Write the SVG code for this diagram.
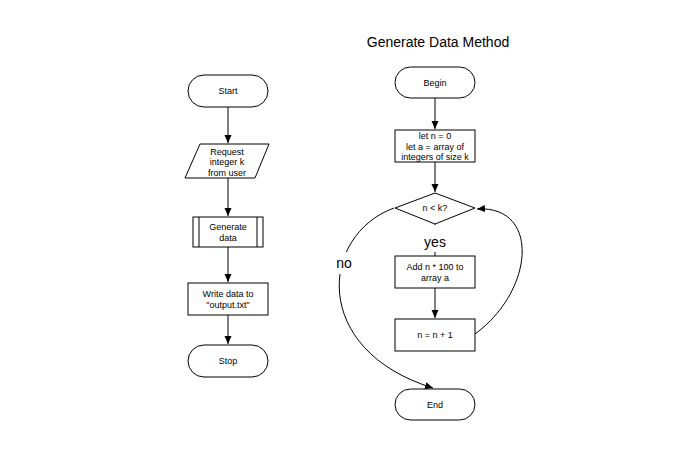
<svg xmlns="http://www.w3.org/2000/svg" width="689" height="471" viewBox="0 0 689 471">
<style>
.s{fill:#fff;stroke:#000;stroke-width:1}
.t{font-family:"Liberation Sans",Arial,sans-serif;font-size:9px;fill:#000;text-anchor:middle}
.big{font-family:"Liberation Sans",Arial,sans-serif;font-size:14px;fill:#000;text-anchor:middle}
.c{fill:none;stroke:#000;stroke-width:1}
</style>
<defs>
<marker id="ah" markerUnits="userSpaceOnUse" markerWidth="10" markerHeight="8" refX="8" refY="3.5" orient="auto">
<path d="M0,0 L8,3.5 L0,7 z" fill="#000"/>
</marker>
</defs>
<rect width="689" height="471" fill="#fff"/>
<text class="big" x="438" y="47">Generate Data Method</text>
<g id="connectors">
<line class="c" x1="228" y1="107" x2="228" y2="143" marker-end="url(#ah)"/>
<line class="c" x1="228" y1="178" x2="228" y2="216" marker-end="url(#ah)"/>
<line class="c" x1="228" y1="247" x2="228" y2="282" marker-end="url(#ah)"/>
<line class="c" x1="228" y1="315" x2="228" y2="344" marker-end="url(#ah)"/>
<line class="c" x1="435" y1="98" x2="435" y2="129" marker-end="url(#ah)"/>
<line class="c" x1="435" y1="162" x2="435" y2="192" marker-end="url(#ah)"/>
<line class="c" x1="435" y1="224" x2="435" y2="256"/>
<line class="c" x1="435" y1="288" x2="435" y2="318" marker-end="url(#ah)"/>
<path class="c" d="M475,334 C535,290 540,205 477,209" marker-end="url(#ah)"/>
<path class="c" d="M394,208 C320,235 310,350 433,388" marker-end="url(#ah)"/>
<rect x="405" y="225" width="60" height="27" fill="#fff"/>
<text class="big" x="435" y="247">yes</text>
<rect x="332" y="252" width="24" height="22" fill="#fff"/>
<text class="big" x="344" y="268">no</text>
</g>
<g id="start">
<rect class="s" x="188" y="75" width="80" height="32" rx="16"/>
<text class="t" x="228" y="94">Start</text>
</g>
<g id="request">
<polygon class="s" points="200,144 269,144 255,178 185,178"/>
<text class="t" x="227" y="155">Request</text>
<text class="t" x="227" y="165">integer k</text>
<text class="t" x="227" y="176">from user</text>
</g>
<g id="generate">
<rect class="s" x="193" y="217" width="70" height="30"/>
<line class="c" x1="199" y1="217" x2="199" y2="247"/>
<line class="c" x1="257" y1="217" x2="257" y2="247"/>
<text class="t" x="228" y="230">Generate</text>
<text class="t" x="228" y="241">data</text>
</g>
<g id="write">
<rect class="s" x="188" y="283" width="80" height="32"/>
<text class="t" x="228" y="297">Write data to</text>
<text class="t" x="228" y="308">"output.txt"</text>
</g>
<g id="stop">
<rect class="s" x="188" y="345" width="80" height="32" rx="16"/>
<text class="t" x="228" y="364">Stop</text>
</g>
<g id="begin">
<rect class="s" x="395" y="67" width="80" height="31" rx="15.5"/>
<text class="t" x="435" y="86">Begin</text>
</g>
<g id="init">
<rect class="s" x="395" y="130" width="80" height="32"/>
<text class="t" x="435" y="139">let n = 0</text>
<text class="t" x="435" y="150">let a = array of</text>
<text class="t" x="435" y="160">integers of size k</text>
</g>
<g id="cond">
<polygon class="s" points="435,193 475,208 435,224 395,208"/>
<text class="t" x="435" y="211">n &lt; k?</text>
</g>
<g id="add">
<rect class="s" x="395" y="256" width="80" height="32"/>
<text class="t" x="435" y="270">Add n * 100 to</text>
<text class="t" x="435" y="281">array a</text>
</g>
<g id="incr">
<rect class="s" x="395" y="319" width="80" height="32"/>
<text class="t" x="435" y="338">n = n + 1</text>
</g>
<g id="end">
<rect class="s" x="395" y="389" width="80" height="31" rx="15.5"/>
<text class="t" x="435" y="408">End</text>
</g>
</svg>
